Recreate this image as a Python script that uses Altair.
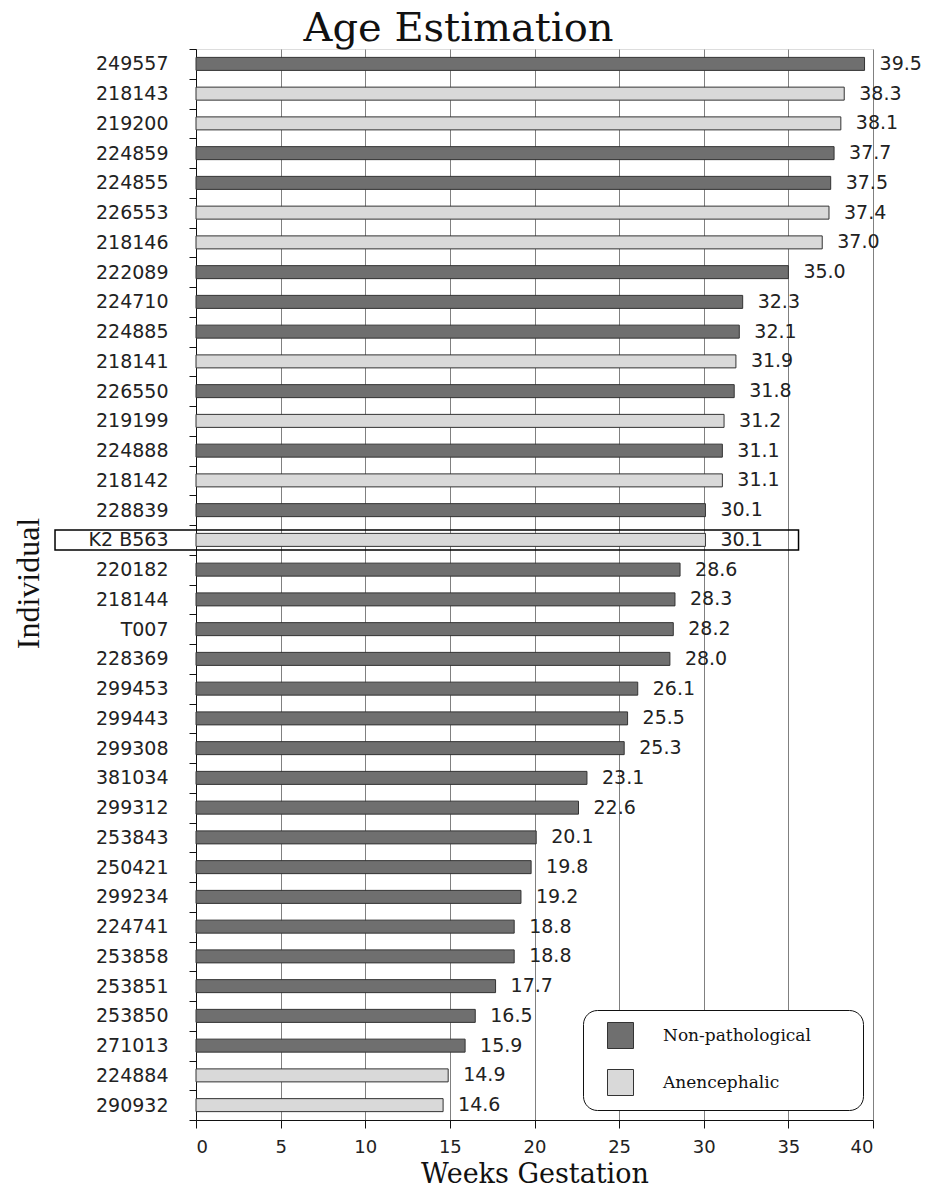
import altair as alt
import pandas as pd

individuals = ["249557", "218143", "219200", "224859", "224855", "226553", "218146",
               "222089", "224710", "224885", "218141", "226550", "219199", "224888",
               "218142", "228839", "K2 B563", "220182", "218144", "T007", "228369",
               "299453", "299443", "299308", "381034", "299312", "253843", "250421",
               "299234", "224741", "253858", "253851", "253850", "271013", "224884",
               "290932"]
weeks = [39.5, 38.3, 38.1, 37.7, 37.5, 37.4, 37.0, 35.0, 32.3, 32.1, 31.9, 31.8,
         31.2, 31.1, 31.1, 30.1, 30.1, 28.6, 28.3, 28.2, 28.0, 26.1, 25.5, 25.3,
         23.1, 22.6, 20.1, 19.8, 19.2, 18.8, 18.8, 17.7, 16.5, 15.9, 14.9, 14.6]
NP, AN = "Non-pathological", "Anencephalic"
groups = [NP, AN, AN, NP, NP, AN, AN, NP, NP, NP, AN, NP, AN, NP, AN, NP, AN, NP,
          NP, NP, NP, NP, NP, NP, NP, NP, NP, NP, NP, NP, NP, NP, NP, NP, AN, AN]
labels = [f"{w:.1f}" for w in weeks]

group_names = [NP, AN]
group_colors = ["#6f6f6f", "#d9d9d9"]

# highlight box around the K2 B563 row (in data units)
highlight_name = ["K2 B563"]
highlight_from = [-8.33]
highlight_to = [35.6]

df = pd.DataFrame({"ind": individuals, "weeks": weeks, "group": groups, "label": labels})
hl = pd.DataFrame({"ind": highlight_name, "x1": highlight_from, "x2": highlight_to})

xscale = alt.Scale(domain=[0, 40], nice=False)
yenc = alt.Y("ind:N", sort=individuals, scale=alt.Scale(paddingInner=0, paddingOuter=0),
             axis=alt.Axis(title="Individual", titleFont="Liberation Serif", titleFontSize=32,
                           titleFontWeight="normal", titleColor="#111",
                           titleAngle=270, titleX=-168, titleY=534, titleAlign="center",
                           titleBaseline="middle",
                           labelFont="DejaVu Sans", labelFontSize=19, labelColor="#222",
                           labelPadding=21, tickSize=7, tickColor="#111", tickBand="extent",
                           domainColor="#111", grid=False))

bars = alt.Chart(df).mark_bar(size=13, stroke="#333", strokeWidth=1).encode(
    x=alt.X("weeks:Q", scale=xscale,
            axis=alt.Axis(title="Weeks Gestation", titleFont="DejaVu Serif", titleFontSize=27,
                          titleFontWeight="normal", titleColor="#111",
                          titleY=62, titleBaseline="alphabetic",
                          values=[0, 5, 10, 15, 20, 25, 30, 35, 40],
                          labelFont="DejaVu Sans", labelFontSize=18, labelColor="#222",
                          labelPadding=10, tickSize=8, tickColor="#111", domainColor="#111",
                          grid=True, gridColor="#808080", gridWidth=1)),
    y=yenc,
    color=alt.Color("group:N", scale=alt.Scale(domain=group_names, range=group_colors),
                    legend=alt.Legend(title=" ", titleOrient="right", titlePadding=40,
                                      orient="none", legendX=387, legendY=961,
                                      labelFont="DejaVu Serif", labelFontSize=17,
                                      labelColor="#111", labelOffset=29,
                                      symbolType="square", symbolSize=676,
                                      symbolStrokeColor="#333", symbolStrokeWidth=1,
                                      symbolOffset=12, rowPadding=16, padding=12,
                                      strokeColor="#111", fillColor="white",
                                      cornerRadius=14)),
)

text = alt.Chart(df).mark_text(align="left", baseline="middle", dx=15, font="DejaVu Sans",
                               fontSize=19, color="#222").encode(
    x=alt.X("weeks:Q", scale=xscale),
    y=alt.Y("ind:N", sort=individuals),
    text="label:N",
)

box = alt.Chart(hl).mark_bar(size=20, fill=None, fillOpacity=0, stroke="#000",
                             strokeWidth=1.5, clip=False).encode(
    x=alt.X("x1:Q", scale=xscale),
    x2="x2:Q",
    y=alt.Y("ind:N", sort=individuals),
)

chart = alt.layer(bars, text, box).properties(
    width=677, height=1071,
    title=alt.TitleParams("Age Estimation", font="DejaVu Serif", fontSize=40,
                          fontWeight="normal", color="#111", anchor="middle",
                          frame="group", dx=-76, dy=47, offset=6, baseline="alphabetic"),
    autosize=alt.AutoSizeParams(type="none"),
    padding={"left": 196, "top": 49, "right": 62, "bottom": 69},
).configure_view(stroke="#808080", strokeWidth=1).configure(background="white")

chart.save("out.html", embed_options={"renderer": "svg", "actions": False})
